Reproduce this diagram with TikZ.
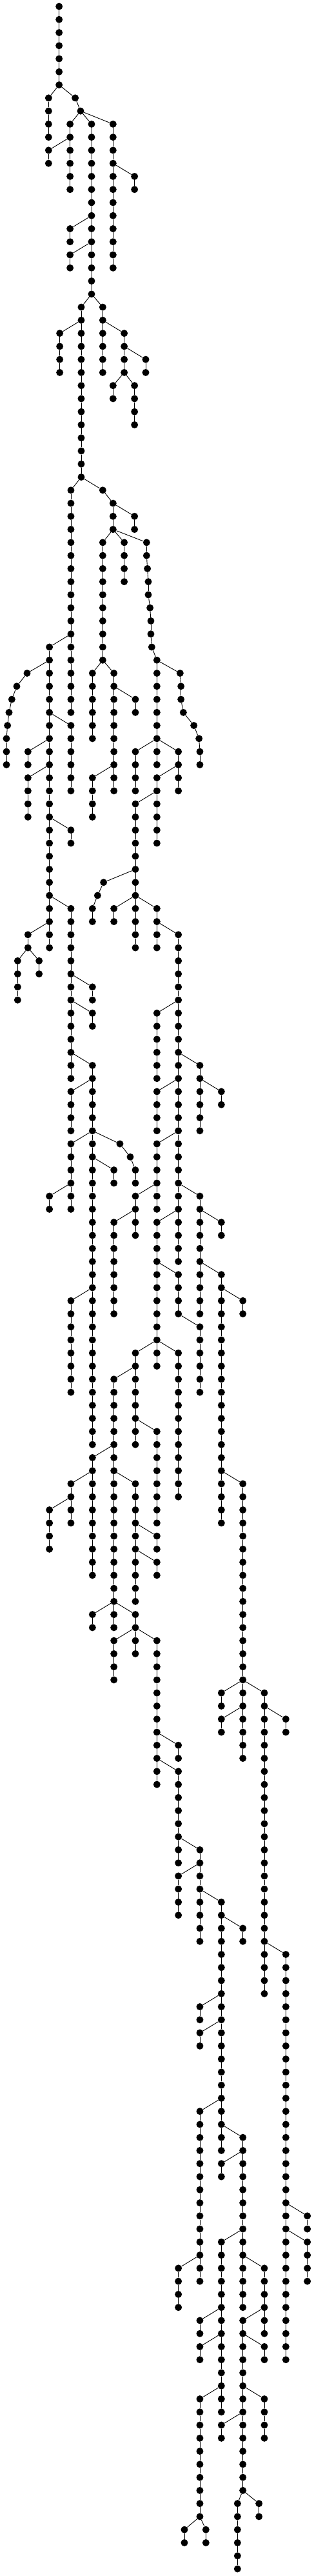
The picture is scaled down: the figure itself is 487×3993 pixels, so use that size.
\documentclass[tikz,border=0pt]{standalone}
\tikzset{dot/.style={circle,fill=black,draw=none,inner sep=0pt,minimum size=11pt},
  edge/.style={line width=0.9pt,black}}
\newcommand\chn[5]{%
  \foreach \i in {1,...,#5}{\node[dot] (#1\i) at (#4,#3+\i-1) {};}%
  \if\relax\detokenize{#2}\relax\else\draw[edge] (#2) -- (#11);\fi
  \ifnum#5>1
    \foreach \i [evaluate=\i as \j using int(\i-1)] in {2,...,#5}{\draw[edge] (#1\j) -- (#1\i);}%
  \fi}
\newcommand\nd[4]{\node[dot] (#1) at (#4,#3) {};\draw[edge] (#2) -- (#1);}
\begin{document}
\begin{tikzpicture}
\useasboundingbox (0,0) rectangle (487pt,-3993pt);
\begin{scope}[x=0.333333pt,y=-20.265pt,yshift=-10pt]
\chn{A}{}{0}{275}{7}
\chn{B}{A7}{7}{226}{4}
\nd{Ca}{A7}{7}{350}
\nd{Cb}{Ca}{8}{375}
\chn{D}{Cb}{9}{326}{6}
\chn{E}{D2}{11}{226}{2}
\chn{F}{Cb}{9}{426}{14}
\chn{G}{Cb}{9}{526}{12}
\chn{H}{G4}{13}{626}{2}
\chn{I}{F8}{17}{326}{2}
\chn{J}{F10}{19}{326}{2}
\chn{K}{F14}{23}{378}{14}
\chn{L}{K2}{25}{278}{4}
\chn{M}{F14}{23}{478}{6}
\chn{N}{M2}{25}{578}{4}
\chn{O}{N2}{27}{678}{2}
\chn{P}{N4}{29}{526}{2}
\chn{Q}{N4}{29}{626}{4}
\chn{R}{K14}{37}{330}{18}
\nd{Sa}{K14}{37}{478}
\chn{S}{Sa}{38}{526}{3}
\chn{T}{S1}{39}{626}{2}
\chn{U}{S3}{41}{478}{10}
\chn{V}{S3}{41}{578}{4}
\nd{Wa}{S3}{41}{682}
\nd{Wb}{Wa}{42}{682}
\nd{Wc}{Wb}{43}{686}
\nd{Wd}{Wc}{44}{690}
\nd{We}{Wd}{45}{690}
\nd{Wf}{We}{46}{698}
\nd{Wg}{Wf}{47}{702}
\nd{Wh}{Wg}{48}{702}
\nd{Wi}{Wh}{49}{706}
\nd{Wj}{Wi}{50}{730}
\chn{X}{R12}{49}{230}{24}
\nd{Ya}{X2}{51}{126}
\nd{Yb}{Ya}{52}{78}
\nd{Yc}{Yb}{53}{55}
\nd{Yd}{Yc}{54}{42}
\nd{Ye}{Yd}{55}{35}
\nd{Yf}{Ye}{56}{30}
\nd{Yg}{Yf}{57}{30}
\nd{Yh}{Yg}{58}{30}
\chn{ZA}{X6}{55}{330}{6}
\chn{AA}{X8}{57}{130}{2}
\chn{AB}{X10}{59}{130}{4}
\chn{AC}{X14}{63}{330}{2}
\chn{AD}{U10}{51}{430}{6}
\chn{AE}{U10}{51}{530}{10}
\chn{AF}{AE2}{53}{630}{2}
\chn{AG}{AE8}{59}{430}{4}
\chn{AH}{Wj}{51}{730}{8}
\nd{AMa}{Wj}{51}{838}
\nd{AMb}{AMa}{52}{842}
\nd{AMc}{AMb}{53}{842}
\nd{AMd}{AMc}{54}{853}
\nd{AMe}{AMd}{55}{902}
\nd{AMf}{AMe}{56}{926}
\nd{AMg}{AMf}{57}{930}
\nd{AMh}{AMg}{58}{930}
\chn{AI}{AH6}{57}{630}{4}
\chn{AJ}{AH6}{57}{830}{4}
\chn{AK}{AJ2}{59}{730}{6}
\chn{AL}{AK2}{61}{630}{12}
\chn{AN}{X20}{69}{330}{14}
\chn{AO}{X22}{71}{130}{2}
\chn{AP}{AO2}{73}{82}{4}
\chn{AQ}{AO2}{73}{182}{2}
\nd{ARa}{AL6}{67}{482}
\nd{ARb}{ARa}{68}{454}
\nd{ARc}{ARb}{69}{430}
\nd{ARd}{ARc}{70}{430}
\chn{AS}{AL8}{69}{530}{2}
\chn{AT}{AL8}{69}{730}{4}
\chn{AU}{AT2}{71}{830}{26}
\chn{AV}{AN6}{75}{430}{2}
\chn{AW}{AN8}{77}{430}{2}
\chn{AX}{AN12}{81}{430}{30}
\chn{AY}{AU6}{77}{730}{6}
\chn{AZ}{AU10}{81}{930}{6}
\chn{BA}{AX2}{83}{330}{4}
\chn{BB}{AX6}{87}{330}{6}
\chn{BC}{BB4}{91}{230}{2}
\nd{BDa}{AX6}{87}{558}
\nd{BDb}{BDa}{88}{606}
\nd{BDc}{BDb}{89}{630}
\nd{BDd}{BDc}{90}{630}
\chn{BE}{AX8}{89}{530}{2}
\chn{BF}{AU12}{83}{730}{4}
\chn{BG}{AU16}{87}{730}{6}
\chn{BH}{BG4}{91}{630}{4}
\chn{BI}{BH2}{93}{530}{8}
\chn{BJ}{AU20}{91}{930}{10}
\chn{BK}{BJ2}{93}{1030}{2}
\chn{BL}{BJ6}{97}{1030}{20}
\chn{BM}{AU22}{93}{730}{10}
\chn{BN}{BM4}{97}{830}{4}
\chn{BO}{AZ2}{83}{1030}{2}
\chn{BP}{AX18}{99}{330}{8}
\chn{BQ}{BM10}{103}{630}{8}
\chn{BR}{BQ2}{105}{530}{18}
\chn{BS}{BQ6}{109}{730}{8}
\chn{BT}{BM10}{103}{730}{2}
\chn{BU}{BM10}{103}{830}{12}
\chn{BV}{BN4}{101}{930}{6}
\chn{BW}{BL2}{99}{1130}{2}
\chn{BX}{BL16}{113}{1130}{16}
\chn{BY}{BR6}{111}{430}{10}
\chn{BZ}{BY2}{113}{330}{4}
\chn{CA}{BR8}{113}{630}{10}
\chn{CB}{BZ2}{115}{230}{4}
\chn{CC}{BR18}{123}{430}{2}
\chn{CD}{BR18}{123}{530}{2}
\chn{CE}{BR18}{123}{630}{2}
\chn{CF}{CE2}{125}{530}{4}
\chn{CG}{CE2}{125}{630}{2}
\chn{CH}{CE2}{125}{730}{12}
\chn{CI}{CA4}{117}{730}{2}
\chn{CJ}{CA6}{119}{730}{2}
\chn{CK}{BX16}{129}{1030}{2}
\chn{CL}{BX16}{129}{1130}{6}
\chn{CM}{BX16}{129}{1230}{24}
\chn{CN}{CH8}{133}{830}{2}
\chn{CO}{CH10}{135}{830}{8}
\chn{CP}{CO6}{141}{930}{8}
\chn{CQ}{CP2}{143}{830}{4}
\chn{CR}{CP4}{145}{1030}{20}
\chn{CS}{CR2}{147}{1130}{2}
\chn{CT}{CL2}{131}{1030}{2}
\chn{CU}{CM2}{131}{1330}{2}
\chn{CV}{CR8}{153}{930}{2}
\chn{CW}{CR10}{155}{930}{2}
\chn{CX}{CR16}{161}{930}{14}
\chn{CY}{CR18}{163}{1130}{14}
\chn{CZ}{CM20}{149}{1330}{32}
\chn{DA}{CX12}{173}{830}{4}
\chn{DB}{CY2}{165}{1030}{2}
\chn{DC}{CY8}{171}{1030}{14}
\chn{DD}{CY10}{173}{1230}{6}
\chn{DE}{DD4}{177}{1130}{14}
\chn{DF}{DE2}{179}{1230}{2}
\chn{DG}{DC6}{177}{930}{2}
\chn{DH}{DC8}{179}{930}{2}
\chn{DI}{CZ20}{169}{1430}{2}
\chn{DJ}{CZ22}{171}{1430}{4}
\chn{DK}{DC12}{183}{930}{10}
\chn{DP}{DK10}{193}{858}{2}
\chn{DQ}{DK10}{193}{958}{2}
\chn{DL}{DE6}{183}{1230}{4}
\chn{DM}{DE8}{185}{1030}{2}
\chn{DN}{DE14}{191}{1105}{6}
\chn{DO}{DE14}{191}{1205}{2}
\end{scope}
\end{tikzpicture}
\end{document}
